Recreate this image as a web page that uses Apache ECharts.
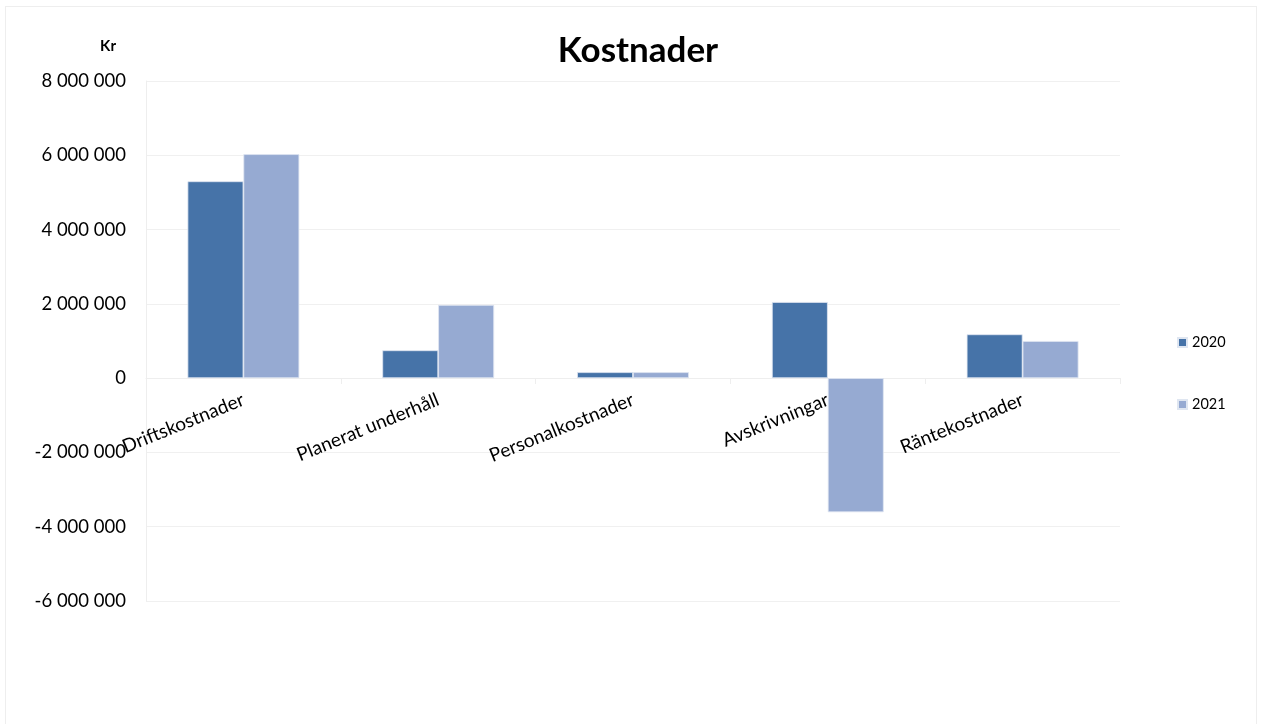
<!DOCTYPE html>
<html><head><meta charset="utf-8">
<script src="https://cdn.jsdelivr.net/npm/echarts@6/dist/echarts.min.js"></script>
<style>html,body{margin:0;padding:0;background:#fff}#c{width:1263px;height:724px}
#frame{position:absolute;left:5px;top:6px;width:1252px;height:730px;border:1px solid #eeeeee;box-sizing:border-box;pointer-events:none}</style>
</head><body><div id="c"></div><div id="frame"></div>
<script>
const categories = ['Driftskostnader','Planerat underhåll','Personalkostnader','Avskrivningar','Räntekostnader'];
const series2020 = [5300000, 750000, 160000, 2050000, 1180000];
const series2021 = [6030000, 1970000, 160000, -3610000, 1000000];
const seriesNames = ['2020','2021'];
const chart = echarts.init(document.getElementById('c'));
const fmt = v => String(Math.abs(v)).replace(/\B(?=(\d{3})+(?!\d))/g,' ').replace(/^/, v<0?'-':'');
const font = 'Lato, "Open Sans", sans-serif';
chart.setOption({
  animation:false,
  textStyle:{fontFamily:font},
  title:{text:'Kostnader',left:633,top:28,textAlign:'center',textStyle:{fontSize:35,fontWeight:'bold',color:'#000',fontFamily:font}},
  legend:{orient:'vertical',left:1172,top:330,itemGap:47,itemWidth:9,itemHeight:9,icon:'rect',
    textStyle:{fontSize:14.5,color:'#000',fontFamily:font},data:seriesNames},
  grid:{left:146,right:143,top:81,bottom:123,containLabel:false},
  xAxis:{type:'category',data:categories,position:'bottom',offset:-223,
    axisLine:{onZero:false,lineStyle:{color:'#eeeeee',width:1}},
    axisTick:{show:true,length:6,lineStyle:{color:'#eeeeee'}},
    axisLabel:{rotate:22,fontSize:19,color:'#000',margin:21,fontFamily:font,interval:0}},
  yAxis:{type:'value',min:-6000000,max:8000000,interval:2000000,
    name:'Kr',nameLocation:'end',nameGap:27,nameTextStyle:{fontSize:15,fontWeight:'bold',color:'#000',align:'right',padding:[0,30,0,0]},
    axisLine:{show:true,lineStyle:{color:'#eeeeee'}},
    axisTick:{show:false},
    splitLine:{lineStyle:{color:'#f0f0f0'}},
    axisLabel:{fontSize:18.5,color:'#000',margin:20,formatter:fmt,fontFamily:font}},
  series:[
    {name:seriesNames[0],type:'bar',data:series2020,barWidth:'28.7%',barGap:'0%',
      itemStyle:{color:'#4673a8',borderColor:'#dfe6f1',borderWidth:0.8}},
    {name:seriesNames[1],type:'bar',data:series2021,barWidth:'28.7%',barGap:'0%',
      itemStyle:{color:'#96aad2',borderColor:'#dfe6f1',borderWidth:0.8}}
  ]
});
</script></body></html>
